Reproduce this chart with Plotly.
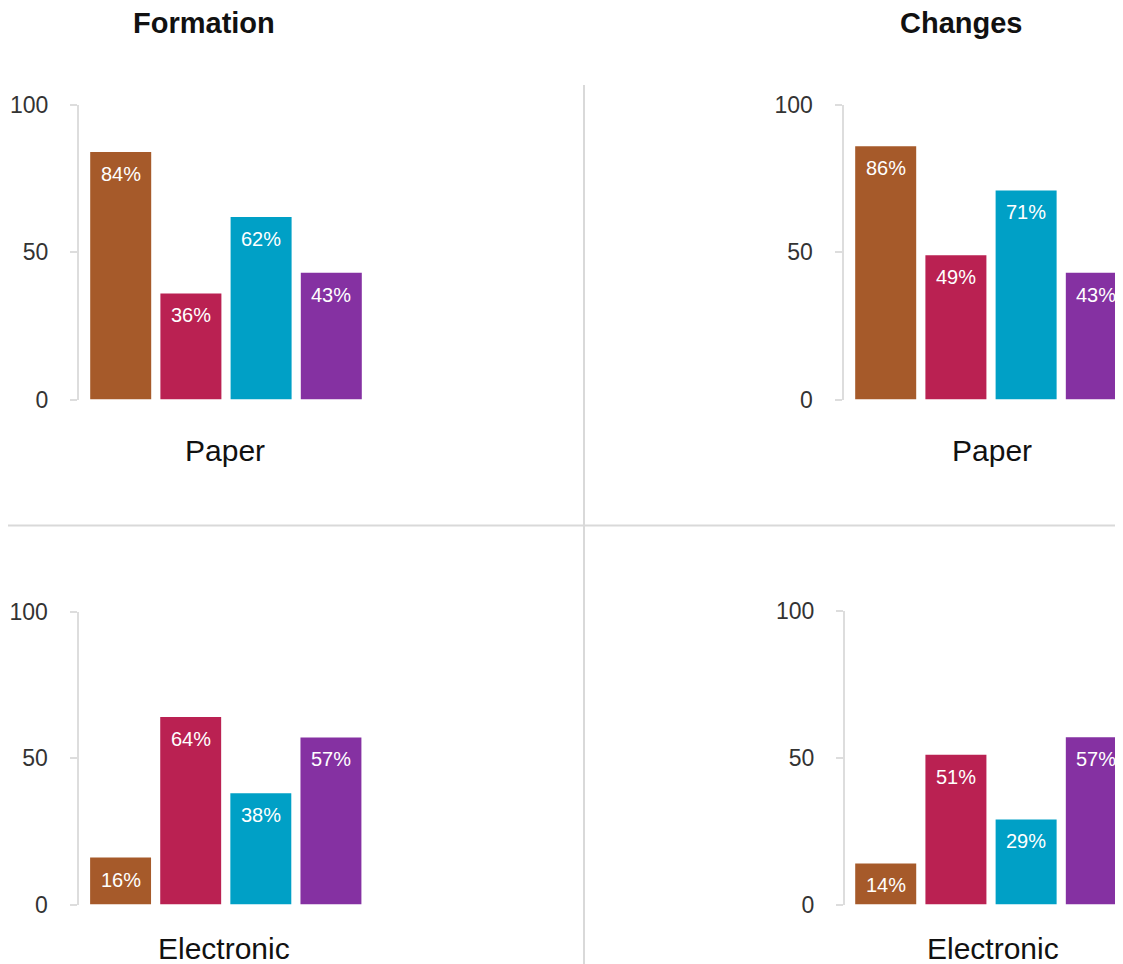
import plotly.graph_objects as go

OFF = 8  # page body margin of the browser
W, H = 1123, 964 - OFF

categories = ["Series 1", "Series 2", "Series 3", "Series 4"]
bar_colors = ["#A65A2A", "#BA2152", "#00A0C6", "#8531A2"]

formation_paper = [84, 36, 62, 43]
formation_electronic = [16, 64, 38, 57]
changes_paper = [86, 49, 71, 43]
changes_electronic = [14, 51, 29, 57]

column_titles = ["Formation", "Changes"]
row_titles = ["Paper", "Electronic"]
y_ticks = [0, 50, 100]

FONT = "Helvetica Neue, Liberation Sans, Arial, sans-serif"


def px_x(v):
    return min(max((v - OFF) / W, 0), 1)


def px_y(v):
    return min(max(1 - (v - OFF) / H, 0), 1)


# panel layout in screen pixels: (x0, x1, xrange, y_top, y_bottom)
panels = [
    ("", formation_paper, (79, 366.4), [-0.594, 3.5], (105, 399.5)),
    ("2", changes_paper, (843.5, 1123), [-0.601, 3.38], (105, 399.5)),
    ("3", formation_electronic, (78.5, 366), [-0.60, 3.5], (611.5, 904.5)),
    ("4", changes_electronic, (845, 1123), [-0.58, 3.38], (611, 904.5)),
]

fig = go.Figure()
annotations = []

for suffix, vals, (x0, x1), xr, (yt, yb) in panels:
    xa = "x" + suffix
    ya = "y" + suffix
    fig.add_trace(go.Bar(
        x=categories, y=vals, marker=dict(color=bar_colors, line=dict(width=0)),
        xaxis=xa, yaxis=ya, showlegend=False, hoverinfo="skip",
    ))
    fig.update_layout(**{
        "xaxis" + suffix: dict(
            domain=[px_x(x0), px_x(x1)], range=xr, type="category",
            showticklabels=False, showline=False, showgrid=False, zeroline=False,
            ticks="", anchor=ya, fixedrange=True, automargin=False,
        ),
        "yaxis" + suffix: dict(
            domain=[px_y(yb), px_y(yt)], range=[0, 100], tickvals=y_ticks,
            showline=True, linecolor="#dddddd", linewidth=2,
            ticks="outside", ticklen=7, tickwidth=2, tickcolor="#dddddd",
            ticklabelstandoff=17, automargin=False,
            tickfont=dict(family=FONT, size=23, color="#333333"),
            showgrid=False, zeroline=False, anchor=xa, fixedrange=True,
        ),
    })
    for c, v in zip(categories, vals):
        annotations.append(dict(
            x=c, y=v, xref=xa, yref=ya, text=f"{v}%", showarrow=False,
            yanchor="top", yshift=-9,
            font=dict(family=FONT, size=20, color="white"),
        ))

# column titles
for t, cx in zip(column_titles, [204, 961]):
    annotations.append(dict(
        x=px_x(cx), y=px_y(23), xref="paper", yref="paper", text=f"<b>{t}</b>",
        showarrow=False, xanchor="center", yanchor="middle",
        font=dict(family=FONT, size=29, color="#111111"),
    ))

# row category labels
for t, cy, cxs in [(row_titles[0], 451, [225, 992]), (row_titles[1], 948, [224, 993])]:
    for cx in cxs:
        annotations.append(dict(
            x=px_x(cx), y=px_y(cy), xref="paper", yref="paper", text=t,
            showarrow=False, xanchor="center", yanchor="middle",
            font=dict(family=FONT, size=30, color="#111111"),
        ))

shapes = [
    dict(type="line", xref="paper", yref="paper", x0=px_x(584), x1=px_x(584),
         y0=px_y(85), y1=0, line=dict(color="#d9d9d9", width=2)),
    dict(type="line", xref="paper", yref="paper", x0=0, x1=1,
         y0=px_y(525.5), y1=px_y(525.5), line=dict(color="#d9d9d9", width=2)),
]

fig.update_layout(
    width=W, height=H, margin=dict(l=0, r=0, t=0, b=0, pad=0, autoexpand=False),
    paper_bgcolor="white", plot_bgcolor="white",
    bargap=0.131, annotations=annotations, shapes=shapes,
    font=dict(family=FONT),
)

fig.write_html("out.html")
